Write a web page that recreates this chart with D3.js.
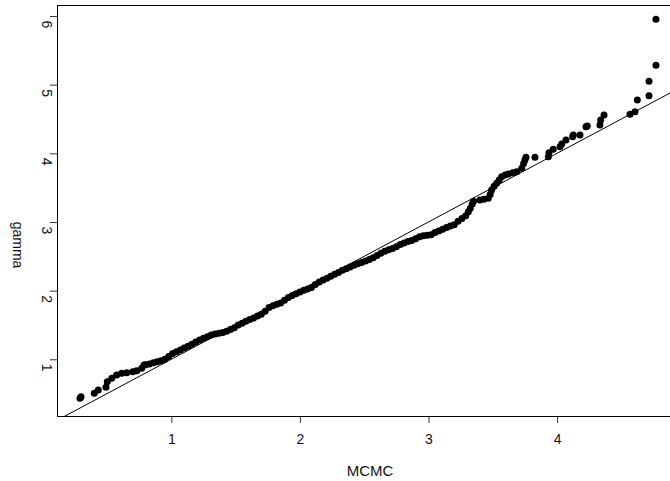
<!DOCTYPE html>
<html>
<head>
<meta charset="utf-8">
<script src="https://cdn.jsdelivr.net/npm/d3@7"></script>
<style>
  body { margin: 0; background: #fff; }
  svg { display: block; font-family: "Liberation Sans", Arial, sans-serif; }
</style>
</head>
<body>
<div id="chart"></div>
<script>
'use strict'

// quantile pairs (MCMC sample vs gamma fit)
const mcmc = [
    0.290, 0.298, 0.401, 0.432, 0.492, 0.502, 0.537, 0.575, 0.614, 0.653, 0.700, 0.731, 0.770, 0.788,
    0.80, 0.83, 0.86, 0.89, 0.92, 0.95, 0.98, 1.01, 1.04, 1.07, 1.10, 1.13, 1.16, 1.19, 1.22, 1.25,
    1.28, 1.31, 1.34, 1.37, 1.40, 1.43, 1.46, 1.49, 1.52, 1.55, 1.58, 1.61, 1.64, 1.67, 1.70, 1.73,
    1.76, 1.79, 1.82, 1.85, 1.88, 1.91, 1.94, 1.97, 2.00, 2.03, 2.06, 2.09, 2.12, 2.15, 2.18, 2.21,
    2.24, 2.27, 2.30, 2.33, 2.36, 2.39, 2.42, 2.45, 2.48, 2.51, 2.54, 2.57, 2.60, 2.63, 2.66, 2.69,
    2.72, 2.75, 2.78, 2.81, 2.84, 2.87, 2.90, 2.93, 2.96, 2.99, 3.02, 3.05, 3.08, 3.11, 3.14, 3.17,
    3.20, 3.23, 3.26, 3.29, 3.31, 3.325, 3.34, 3.35,
    3.40, 3.43, 3.465, 3.48, 3.491, 3.51, 3.53, 3.55, 3.569, 3.595, 3.621, 3.655, 3.686, 3.725,
    3.74, 3.75, 3.758,
    3.828, 3.932, 3.937, 3.970, 4.023, 4.036, 4.069, 4.121, 4.126, 4.178, 4.225, 4.235, 4.333,
    4.339, 4.365, 4.567, 4.606, 4.624, 4.715, 4.715, 4.769, 4.769
]
const gamma = [
    0.432, 0.455, 0.505, 0.553, 0.592, 0.674, 0.723, 0.771, 0.796, 0.805, 0.819, 0.834, 0.869, 0.917,
    0.92, 0.93, 0.95, 0.965, 0.98, 1.00, 1.04, 1.085, 1.11, 1.135, 1.165, 1.19, 1.22, 1.25, 1.28, 1.305,
    1.33, 1.355, 1.37, 1.378, 1.39, 1.41, 1.435, 1.46, 1.50, 1.525, 1.555, 1.58, 1.60, 1.63, 1.655, 1.70,
    1.755, 1.78, 1.80, 1.82, 1.86, 1.90, 1.93, 1.955, 1.98, 2.005, 2.025, 2.045, 2.09, 2.125, 2.155, 2.18,
    2.21, 2.24, 2.265, 2.295, 2.32, 2.345, 2.37, 2.39, 2.41, 2.43, 2.455, 2.48, 2.51, 2.545, 2.575, 2.595,
    2.615, 2.64, 2.67, 2.695, 2.715, 2.73, 2.755, 2.785, 2.80, 2.805, 2.815, 2.845, 2.87, 2.895, 2.92, 2.94,
    2.96, 3.01, 3.05, 3.09, 3.15, 3.20, 3.26, 3.30,
    3.32, 3.33, 3.345, 3.40, 3.466, 3.52, 3.563, 3.61, 3.66, 3.685, 3.70, 3.715, 3.732, 3.782,
    3.85, 3.903, 3.942,
    3.942, 3.951, 4.009, 4.059, 4.096, 4.136, 4.194, 4.242, 4.267, 4.267, 4.388, 4.398, 4.412,
    4.485, 4.558, 4.568, 4.606, 4.777, 4.839, 5.049, 5.282, 5.952
]

const xTicks = [1, 2, 3, 4]
const yTicks = [1, 2, 3, 4, 5, 6]

////////////////////////////////////
//////////// svg setup /////////////
////////////////////////////////////

const svgWidth = 670
const svgHeight = 481
const margin = { left: 57, top: 5 }
// the frame runs past the right edge of the window
const width = 627
const height = 411

const svg = d3.select('#chart')
    .append('svg')
    .attr('width', svgWidth)
    .attr('height', svgHeight)

const g = svg.append('g')
    .attr('transform', `translate(${margin.left},${margin.top})`)

const x = d3.scaleLinear().domain([0.111, 4.987]).range([0, width])
const y = d3.scaleLinear().domain([0.174, 6.16]).range([height, 0])

////////////////////////////////////
//////////////// axes //////////////
////////////////////////////////////

const xAxis = g.append('g')
    .attr('transform', `translate(0,${height})`)
    .call(d3.axisBottom(x).tickValues(xTicks).tickSize(7).tickPadding(11).tickFormat(d3.format('d')))
xAxis.select('.domain').remove()
xAxis.selectAll('line').attr('stroke', '#333')
xAxis.selectAll('text')
    .attr('fill', '#111')
    .style('font-size', '14px')
    .style('font-family', '"Liberation Sans", Arial, sans-serif')

const yAxis = g.append('g')
    .call(d3.axisLeft(y).tickValues(yTicks).tickSize(7).tickFormat(d3.format('d')))
yAxis.select('.domain').remove()
yAxis.selectAll('line').attr('stroke', '#333')
// labels run top to bottom, just under each tick
yAxis.selectAll('text')
    .attr('x', null)
    .attr('dy', null)
    .attr('text-anchor', 'start')
    .attr('transform', 'translate(-15,4) rotate(90)')
    .attr('fill', '#111')
    .style('font-size', '14px')
    .style('font-family', '"Liberation Sans", Arial, sans-serif')

// frame
g.append('rect')
    .attr('x', 0.5)
    .attr('y', 0.5)
    .attr('width', width)
    .attr('height', height)
    .attr('fill', 'none')
    .attr('stroke', '#000')
    .attr('stroke-width', 1)

// titles
svg.append('text')
    .attr('x', 370)
    .attr('y', 476)
    .attr('text-anchor', 'middle')
    .attr('fill', '#111')
    .style('font-size', '15px')
    .text('MCMC')

svg.append('text')
    .attr('transform', 'translate(12.5,245) rotate(90)')
    .attr('text-anchor', 'middle')
    .attr('fill', '#111')
    .style('font-size', '14px')
    .text('gamma')

////////////////////////////////////
//////////// add marks /////////////
////////////////////////////////////

svg.append('clipPath').attr('id', 'plotclip')
    .append('rect').attr('width', width).attr('height', height)

const plot = g.append('g').attr('clip-path', 'url(#plotclip)')

// y = x reference line
const lo = x.domain()[0], hi = x.domain()[1]
plot.append('line')
    .attr('x1', x(lo)).attr('y1', y(lo))
    .attr('x2', x(hi)).attr('y2', y(hi))
    .attr('stroke', '#000')
    .attr('stroke-width', 1)

plot.append('g')
    .selectAll('circle')
    .data(mcmc.map((d, i) => ({ m: d, g: gamma[i] })))
    .join('circle')
    .attr('cx', d => x(d.m))
    .attr('cy', d => y(d.g))
    .attr('r', 3.5)
    .attr('fill', '#000')
</script>
</body>
</html>
